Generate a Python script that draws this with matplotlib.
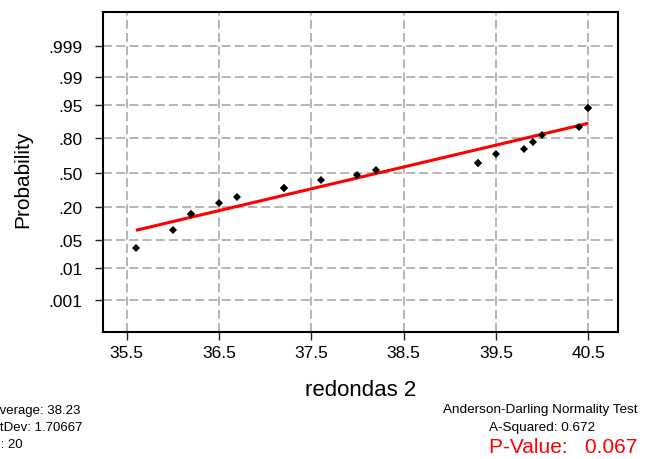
"""
Normal probability plot (Anderson-Darling normality test) for "redondas 2".

Run:
    python plot.py

Output:
    out.png
"""
from statistics import NormalDist

import matplotlib
matplotlib.use("Agg")
import matplotlib.pyplot as plt
import numpy as np
import pandas as pd

VALUES = [35.6, 36.0, 36.2, 36.2, 36.5, 36.7, 37.2, 37.2, 37.6, 38.0,
          38.2, 39.3, 39.3, 39.5, 39.8, 39.9, 40.0, 40.4, 40.5, 40.5]
PROB_TICKS = [0.001, 0.01, 0.05, 0.20, 0.50, 0.80, 0.95, 0.99, 0.999]
PROB_LABELS = [".001", ".01", ".05", ".20", ".50", ".80", ".95", ".99", ".999"]
X_TICKS = [35.5, 36.5, 37.5, 38.5, 39.5, 40.5]
A_SQUARED = 0.672
P_VALUE = 0.067

W, H = 648, 460
plt.rcParams["font.family"] = ["Liberation Sans", "DejaVu Sans"]
norm = NormalDist()


def px(x, y):
    """pixel position (from top-left) -> figure fraction"""
    return x / W, 1 - y / H


x = np.array(VALUES)
n = len(x)
ranks = pd.Series(x).rank(method="average").to_numpy()
z = np.array([norm.inv_cdf(p) for p in (ranks - 0.3) / (n + 0.4)])

# least-squares line of z on x
xm = x.mean()
slope = np.sum(z * (x - xm)) / np.sum((x - xm) ** 2)
icpt = z.mean() - slope * xm
xl = np.array([x.min(), x.max()])

fig = plt.figure(figsize=(W / 100, H / 100), dpi=100)
left, right, top, bottom = 103.3, 618.3, 12.7, 332.7
ax = fig.add_axes([left / W, 1 - bottom / H, (right - left) / W, (bottom - top) / H])

ax.plot(xl, icpt + slope * xl, color="#ff0000", lw=2.2, solid_capstyle="butt", zorder=3)
ax.plot(x, z, "D", color="black", ms=4.5, mew=0, zorder=4)

ax.set_xlim(35.2465, 40.825)
ax.set_ylim(-3.87, 3.92)
ax.set_xticks(X_TICKS)
ax.set_xticklabels([f"{t:.1f}" for t in X_TICKS])
ax.set_yticks([norm.inv_cdf(p) for p in PROB_TICKS])
ax.set_yticklabels(PROB_LABELS)

ax.grid(True, color="#b0b0b0", linestyle=(0, (5, 2.3)), linewidth=1.3)
ax.set_axisbelow(True)
for s in ax.spines.values():
    s.set_linewidth(1.5)
    s.set_color("black")
ax.tick_params(direction="out", length=5.8, width=1, color="#222222", labelsize=12.5)
ax.tick_params(axis="y", pad=9.0)
ax.tick_params(axis="x", pad=4.0)

fig.text(*px(360.5, 395.7), "redondas 2", fontsize=16, ha="center", va="baseline")
fig.text(*px(23, 179.5), "Probability", fontsize=15, rotation=90, ha="center", va="center")

# summary stats, partly cut by the left edge as in the original export
sd = x.std(ddof=1)
for yb, s in [(414, f"Average: {xm:.2f}"), (431, f"StDev: {sd:.5f}"), (448.3, f"N: {n}")]:
    fig.text(*px(-8.8, yb), s, fontsize=9.5, ha="left", va="baseline")

fig.text(*px(540.5, 413.3), "Anderson-Darling Normality Test", fontsize=9.7,
         ha="center", va="baseline")
fig.text(*px(489, 430.7), f"A-Squared: {A_SQUARED:.3f}", fontsize=9.7,
         ha="left", va="baseline")
fig.text(*px(489, 453.3), f"P-Value:   {P_VALUE:.3f}", fontsize=15, color="#ff0000",
         ha="left", va="baseline")

fig.savefig("out.png", dpi=100)
plt.close(fig)
